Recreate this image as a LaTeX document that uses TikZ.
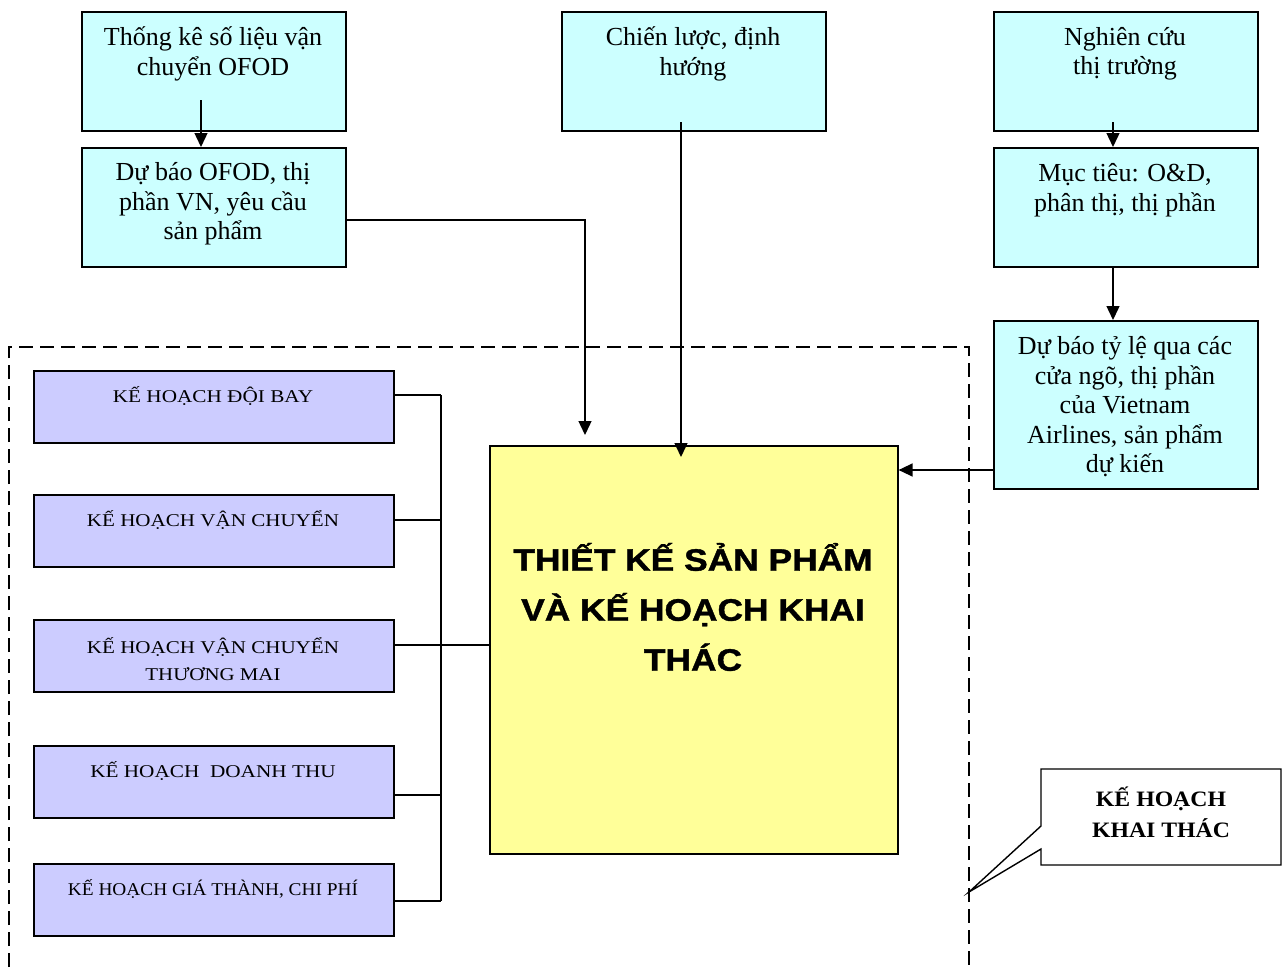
\documentclass[tikz,border=0pt]{standalone}
\usepackage{fontspec}
\setmainfont{Liberation Serif}
\setsansfont{Liberation Sans}
\usetikzlibrary{arrows.meta,calc}
\definecolor{cyanfill}{HTML}{CCFFFF}
\definecolor{lilac}{HTML}{CCCCFF}
\definecolor{yelfill}{HTML}{FFFF99}
\newcommand\wx[2][1.17]{\scalebox{#1}[1]{#2}}
\begin{document}
\begin{tikzpicture}[x=1pt,y=-1pt,
  box/.style={draw=black,line width=1.6pt,inner sep=0pt,anchor=north west},
  cbox/.style={box,fill=cyanfill,minimum width=264pt,minimum height=119pt},
  lbox/.style={box,fill=lilac,minimum width=360pt,minimum height=72pt},
  txt/.style={inner sep=0pt,align=center,font=\fontsize{26}{29.5}\selectfont},
  ltxt/.style={inner sep=0pt,align=center,font=\fontsize{18}{27}\selectfont},
  conn/.style={line width=1.4pt},
  arr/.style={conn,-{Triangle[length=14pt,width=13pt]}},
  dashbox/.style={line width=1.5pt,dash pattern=on 14pt off 7pt}]
\useasboundingbox (0,0) rectangle (1288,967);
\fill[white] (0,0) rectangle (1288,967);

% top boxes
\node[cbox] (a) at (81,11) {};
\node[txt] (at) at (213,54) {Thống kê số liệu vận\\chuyển OFOD};
\node[cbox] (b) at (81,147) {};
\node[txt] (bt) at (213,204) {Dự báo OFOD, thị\\phần VN, yêu cầu\\sản phẩm};
\node[cbox] (c) at (561,11) {};
\node[txt] (ct) at (693,54) {Chiến lược, định\\hướng};
\node[cbox] (d) at (993,11) {};
\node[txt] (dt) at (1125,54) {Nghiên cứu\\thị trường};
\node[cbox] (e) at (993,147) {};
\node[txt] (et) at (1125,190) {Mục tiêu: O\&D,\\phân thị, thị phần};
\node[cbox,minimum height=168pt] (f) at (993,320) {};
\node[txt] (ft) at (1125,407) {Dự báo tỷ lệ qua các\\cửa ngõ, thị phần\\của Vietnam\\Airlines, sản phẩm\\dự kiến};

% central box
\node[box,fill=yelfill,minimum width=408pt,minimum height=408pt] (y) at (489,445) {};
\node[inner sep=0pt,align=center,font=\sffamily\bfseries\addfontfeature{FakeBold=1.2}\fontsize{31}{50}\selectfont] (yt) at (693,607)
  {\wx[1.14]{THIẾT KẾ SẢN PHẨM}\\\wx[1.14]{VÀ KẾ HOẠCH KHAI}\\\wx[1.14]{THÁC}};

% left boxes
\node[lbox] (l1) at (33,370) {};
\node[ltxt] (l1t) at (213,396) {\wx[1.18]{KẾ HOẠCH ĐỘI BAY}};
\node[lbox] (l2) at (33,494) {};
\node[ltxt] (l2t) at (213,520) {\wx{KẾ HOẠCH VẬN CHUYỂN}};
\node[lbox] (l3) at (33,619) {};
\node[ltxt] (l3t) at (213,659) {\wx{KẾ HOẠCH VẬN CHUYỂN}\\\wx[1.16]{THƯƠNG MAI}};
\node[lbox] (l4) at (33,745) {};
\node[ltxt] (l4t) at (213,771) {\wx[1.18]{KẾ HOẠCH\ \ DOANH THU}};
\node[lbox] (l5) at (33,863) {};
\node[ltxt] (l5t) at (213,889) {\wx[1.075]{KẾ HOẠCH GIÁ THÀNH, CHI PHÍ}};

% dashed frame
\draw[dashbox] (9,967) -- (9,347) -- (969,347) -- (969,967);

% callout
\draw[line width=1.4pt,fill=white] (1041,769) -- (1281,769) -- (1281,865) -- (1041,865) -- (1041,849) -- (969,892) -- (1041,826) -- cycle;
\node[inner sep=0pt,align=center,font=\bfseries\fontsize{22}{31}\selectfont] (kt) at (1161,812)
  {\wx[1.08]{KẾ HOẠCH}\\\wx[1.08]{KHAI THÁC}};

% connectors
\coordinate (a1) at (201,100);
\draw[arr] (a1) -- (a1 |- b.north);
\coordinate (d1) at (1113,122);
\draw[arr] (d1) -- (d1 |- e.north);
\coordinate (e1) at (1113,268);
\draw[arr] (e1) -- (e1 |- f.north);
\coordinate (b1) at (345,220);
\coordinate (y1) at (585,435);
\draw[arr] (b1) -| (y1);
\coordinate (c1) at (681,122);
\coordinate (y2) at (681,457);
\draw[arr] (c1) -- (y2);
\coordinate (f1) at (993,470);
\draw[arr] (f1) -- (f1 -| y.east);

% bus
\coordinate (bt1) at (441,395);
\coordinate (bt5) at (441,901);
\draw[conn] (bt1) -- (bt5);
\draw[conn] (l1.east |- bt1) -- (bt1);
\draw[conn] (l2.east |- 0,520) -- (441,520);
\draw[conn] (l3.east |- 0,645) -- (y.west |- 0,645);
\draw[conn] (l4.east |- 0,795) -- (441,795);
\draw[conn] (l5.east |- bt5) -- (bt5);
\end{tikzpicture}
\end{document}
